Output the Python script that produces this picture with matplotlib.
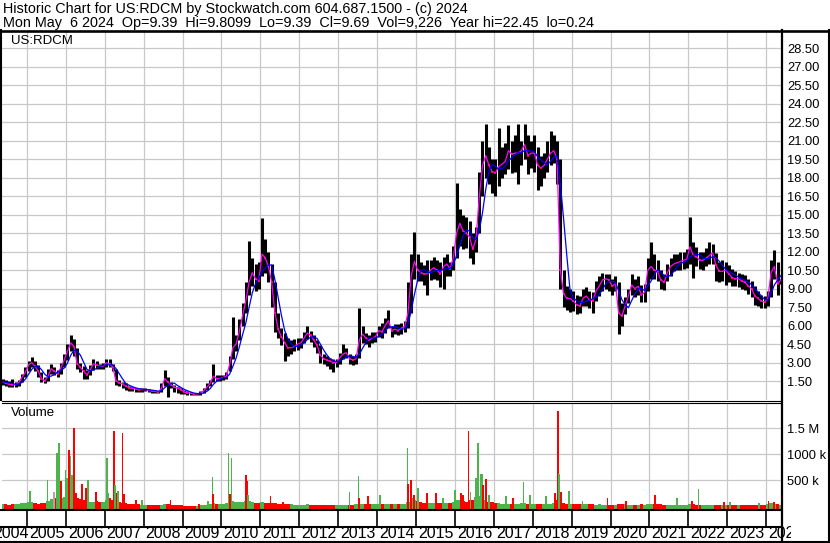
import numpy as np
import pandas as pd
import matplotlib.pyplot as plt
from matplotlib.lines import Line2D
from matplotlib.transforms import offset_copy, Bbox

plt.rcParams['font.family'] = ['Liberation Sans', 'DejaVu Sans']

W, H = 830, 543

# monthly bars, May 2004 .. May 2024
months = pd.period_range('2004-05', '2024-05', freq='M')

close = [
    1.45, 1.3, 1.25, 1.2, 1.2, 1.35, 1.8, 2.2,                          # 2004
    2.8, 3.0, 2.7, 2.3, 1.7, 1.5, 1.9, 2.5, 2.3, 2.1, 2.6, 3.2,         # 2005
    3.9, 4.6, 4.3, 2.9, 2.6, 2.3, 2.0, 2.4, 2.9, 2.8, 2.7, 2.7,         # 2006
    3.0, 2.9, 2.6, 1.5, 1.35, 1.25, 1.1, 0.95, 0.9, 0.85, 0.8, 0.8,     # 2007
    0.8, 0.75, 0.7, 0.65, 0.6, 0.9, 1.7, 1.4, 1.2, 1.0, 0.9, 0.8,       # 2008
    0.6, 0.55, 0.5, 0.45, 0.45, 0.5, 0.7, 1.0, 1.3, 1.9, 1.7, 1.7,      # 2009
    1.8, 1.9, 2.8, 4.2, 4.5, 5.5, 6.8, 8.0, 9.5, 10.3, 9.8, 9.6,        # 2010
    11.8, 11.5, 10.8, 9.5, 7.0, 5.7, 5.1, 4.6, 4.2, 4.2, 4.3, 4.5,      # 2011
    4.6, 5.0, 5.4, 5.2, 4.8, 4.4, 3.6, 3.3, 3.2, 3.1, 3.0, 3.0,         # 2012
    3.4, 3.7, 3.8, 3.3, 3.2, 3.3, 4.8, 5.3, 5.0, 4.8, 5.0, 5.1,         # 2013
    5.6, 5.5, 6.0, 6.4, 5.6, 5.7, 5.6, 5.8, 5.9, 7.0, 10.0, 11.2,       # 2014
    10.5, 10.3, 10.2, 10.2, 10.5, 10.7, 10.5, 10.2, 10.8, 11.0, 10.6, 11.5,  # 2015
    13.5, 14.3, 13.7, 13.5, 13.2, 12.2, 13.0, 16.4, 19.0, 19.8, 19.0, 18.5,  # 2016
    18.4, 18.9, 19.1, 19.3, 20.2, 19.9, 20.0, 20.0, 20.2, 20.7, 19.8, 20.0,  # 2017
    20.0, 19.0, 18.8, 19.0, 19.5, 20.0, 20.2, 19.5, 10.5, 8.6, 8.2, 8.2,     # 2018
    8.0, 7.7, 7.6, 8.2, 8.4, 8.1, 8.0, 8.8, 9.2, 9.7, 9.8, 9.7,         # 2019
    9.2, 9.4, 7.0, 6.8, 7.6, 8.4, 9.3, 9.0, 9.2, 8.5, 8.7, 10.5,        # 2020
    10.8, 10.5, 10.4, 9.7, 9.5, 10.3, 10.8, 11.0, 11.1, 11.2, 11.3, 11.4,    # 2021
    12.4, 11.7, 11.6, 11.3, 11.3, 11.5, 11.7, 11.9, 10.9, 10.4, 10.4, 10.5,  # 2022
    10.2, 9.9, 9.8, 9.8, 9.6, 9.5, 9.2, 9.0, 8.4, 8.2, 8.0, 7.9,        # 2023
    8.2, 10.3, 10.8, 9.4, 9.69,                                         # 2024
]
high = [
    1.7, 1.6, 1.5, 1.7, 1.45, 1.6, 2.1, 2.6,
    3.1, 3.45, 3.1, 2.8, 2.2, 1.8, 2.5, 2.9, 2.6, 2.4, 3.0, 3.7,
    4.5, 5.25, 4.9, 4.2, 3.0, 2.7, 2.4, 2.8, 3.3, 3.1, 2.9, 3.0,
    3.3, 3.25, 2.9, 2.5, 1.6, 1.45, 1.3, 1.1, 1.0, 0.95, 0.9, 0.9,
    0.9, 0.85, 0.8, 0.75, 0.7, 1.3, 2.4, 1.8, 1.4, 1.2, 1.0, 0.9,
    0.75, 0.7, 0.6, 0.55, 0.55, 0.65, 0.9, 1.3, 1.6, 2.9, 2.0, 2.0,
    2.0, 2.2, 3.5, 6.7, 5.2, 6.5, 7.8, 9.5, 12.9, 11.5, 11.0, 11.2,
    14.7, 13.0, 12.0, 11.0, 9.5, 7.0, 5.8, 5.4, 5.0, 4.8, 4.9, 5.0,
    5.0, 5.5, 6.0, 5.6, 5.2, 4.8, 4.4, 3.7, 3.5, 3.4, 3.3, 3.3,
    3.8, 4.5, 4.2, 3.7, 3.5, 3.7, 7.4, 6.0, 5.4, 5.2, 5.5, 5.5,
    6.0, 6.2, 6.6, 7.3, 6.0, 6.1, 6.1, 6.2, 6.4, 9.5, 11.8, 13.6,
    11.8, 11.2, 10.9, 11.3, 11.3, 11.6, 11.3, 11.2, 11.6, 11.8, 11.2, 12.5,
    17.6, 15.5, 15.0, 14.8, 14.5, 13.5, 14.0, 18.5, 21.0, 22.4, 20.5, 19.5,
    19.5, 22.0, 20.5, 20.8, 22.3, 21.0, 21.5, 22.4, 21.0, 22.4, 21.5, 21.0,
    21.5, 20.5, 19.8, 20.0, 21.0, 21.8, 21.5, 21.0, 19.5, 10.5, 9.2, 9.0,
    8.8, 8.5, 8.4, 9.0, 9.1, 8.8, 8.7, 9.6, 10.0, 10.3, 10.2, 10.2,
    9.8, 10.0, 9.5, 7.8, 8.3, 9.0, 10.2, 9.8, 10.0, 9.3, 9.4, 11.5,
    12.8, 11.8, 11.3, 10.5, 10.2, 11.0, 11.5, 11.8, 11.8, 12.0, 12.0, 12.2,
    14.8, 12.8, 12.4, 12.0, 12.0, 12.3, 12.8, 12.6, 11.9, 11.2, 11.3, 11.2,
    10.9, 10.6, 10.4, 10.3, 10.2, 10.1, 9.8, 9.6, 9.2, 8.8, 8.5, 8.4,
    8.8, 11.3, 12.1, 11.2, 9.81,
]
low = [
    1.15, 1.1, 1.0, 1.0, 1.0, 1.1, 1.4, 1.8,
    2.3, 2.6, 2.3, 1.8, 1.4, 1.3, 1.5, 2.1, 2.0, 1.8, 2.1, 2.6,
    3.2, 3.9, 3.5, 2.5, 2.2, 1.7, 1.7, 2.0, 2.4, 2.5, 2.5, 2.5,
    2.6, 2.6, 2.3, 1.2, 1.1, 0.9, 0.75, 0.7, 0.65, 0.6, 0.6, 0.6,
    0.65, 0.6, 0.55, 0.5, 0.5, 0.6, 1.1, 0.24, 0.9, 0.6, 0.5, 0.45,
    0.45, 0.4, 0.38, 0.35, 0.35, 0.4, 0.5, 0.8, 1.1, 1.4, 1.5, 1.5,
    1.6, 1.7, 2.3, 3.3, 3.9, 4.8, 6.0, 7.0, 8.5, 9.2, 8.8, 9.0,
    10.0, 10.3, 9.5, 7.5, 5.5, 5.0, 4.4, 3.1, 3.5, 3.7, 3.9, 4.0,
    4.2, 4.6, 4.9, 4.7, 4.3, 3.8, 3.0, 2.9, 2.7, 2.5, 2.2, 2.6,
    2.9, 3.3, 3.4, 2.9, 2.8, 2.9, 3.4, 4.6, 4.5, 4.3, 4.6, 4.7,
    5.1, 5.0, 5.4, 5.8, 5.1, 5.3, 5.2, 5.3, 5.5, 5.8, 7.0, 9.8,
    9.6, 9.6, 9.3, 8.5, 9.7, 9.8, 9.7, 9.1, 9.0, 10.0, 10.0, 10.5,
    11.5, 12.5, 12.2, 12.3, 11.5, 11.0, 12.0, 13.5, 16.5, 18.0, 17.5, 16.8,
    16.5, 17.3, 18.0, 18.3, 18.7, 18.4, 18.5, 17.5, 19.0, 19.5, 18.3, 18.8,
    18.5, 17.0, 17.3, 18.0, 18.5, 19.0, 19.2, 17.5, 9.0, 7.5, 7.3, 7.1,
    7.2, 6.9, 7.0, 7.6, 7.6, 7.4, 7.0, 8.0, 8.4, 8.8, 9.0, 8.8,
    8.5, 8.8, 5.3, 6.0, 6.9, 7.8, 8.5, 8.3, 8.5, 7.9, 7.9, 8.8,
    9.8, 9.8, 9.6, 9.0, 8.9, 9.6, 10.0, 10.4, 10.5, 10.5, 10.6, 10.7,
    11.0, 9.9, 10.8, 10.6, 10.5, 10.8, 11.0, 11.0, 9.6, 9.5, 9.6, 9.3,
    9.5, 9.2, 9.2, 9.1, 9.0, 8.9, 8.6, 8.3, 7.7, 7.6, 7.4, 7.4,
    7.6, 8.3, 9.8, 8.5, 9.39,
]
# typical daily volume level per month, thousands
base_vol = [
    40, 35, 30, 35, 40, 45, 60, 70,
    90, 80, 60, 50, 60, 70, 100, 140, 150, 130, 160, 180,
    200, 220, 180, 150, 140, 120, 110, 90, 80, 100, 90, 80,
    120, 150, 130, 110, 90, 70, 60, 50, 40, 40, 35, 30,
    30, 25, 20, 20, 20, 20, 40, 35, 25, 20, 15, 15,
    12, 10, 10, 10, 12, 15, 20, 25, 40, 60, 50, 40,
    50, 60, 80, 100, 90, 80, 90, 110, 100, 80, 70, 70,
    80, 70, 60, 70, 60, 50, 40, 50, 40, 35, 30, 30,
    30, 30, 35, 30, 25, 25, 25, 20, 20, 20, 18, 18,
    20, 22, 25, 25, 30, 40, 50, 40, 35, 35, 40, 35,
    35, 35, 40, 40, 35, 35, 40, 45, 50, 80, 150, 120,
    100, 80, 70, 70, 60, 70, 60, 60, 60, 70, 60, 80,
    120, 130, 100, 90, 130, 120, 180, 200, 150, 120, 90, 80,
    60, 60, 50, 50, 50, 50, 50, 45, 55, 60, 50, 50,
    50, 50, 45, 45, 50, 50, 60, 120, 90, 60, 50, 45,
    45, 40, 40, 40, 35, 35, 35, 30, 35, 30, 30, 30,
    30, 30, 45, 40, 35, 30, 30, 30, 30, 35, 30, 35,
    40, 40, 35, 35, 30, 30, 30, 30, 30, 30, 30, 30,
    35, 35, 30, 30, 30, 30, 28, 28, 28, 25, 25, 25,
    25, 25, 25, 22, 22, 22, 20, 20, 22, 22, 20, 25,
    50, 60, 50, 40, 30,
]
# single-day volume spikes: date (decimal year), volume (k), colour
spike_x = [2005.08, 2005.53, 2005.69, 2005.78, 2005.82, 2005.87, 2005.99, 2006.03,
           2006.08, 2006.12, 2006.16, 2006.22, 2006.26, 2006.41, 2006.51, 2006.57,
           2006.77, 2007.05, 2007.09, 2007.23, 2007.26, 2007.30, 2007.35, 2007.46,
           2007.50, 2007.80, 2007.96, 2008.69, 2009.42, 2009.65, 2009.77, 2009.78,
           2010.18, 2010.22, 2010.26, 2010.64, 2010.67, 2010.68, 2011.26, 2011.58,
           2013.29, 2013.52, 2013.53, 2013.77, 2014.08, 2014.78, 2014.80, 2014.88,
           2014.95, 2015.05, 2015.28, 2015.52, 2015.69, 2016.00, 2016.16, 2016.20,
           2016.35, 2016.40, 2016.55, 2016.60, 2016.66, 2016.70, 2016.73, 2016.80,
           2016.87, 2017.32, 2017.49, 2017.76, 2017.93, 2018.34, 2018.57, 2018.64,
           2018.68, 2018.73, 2018.94, 2019.28, 2019.92, 2020.40, 2021.14, 2021.70,
           2022.10, 2022.26, 2022.92, 2023.07, 2023.82, 2024.06, 2024.20]
spike_vol = [300, 500, 270, 1030, 1210, 490, 700, 540,
             1090, 970, 600, 1500, 250, 430, 350, 510,
             270, 920, 250, 1440, 410, 250, 300, 1400,
             240, 130, 130, 130, 45, 110, 570, 240,
             1030, 245, 920, 600, 490, 220, 200, 80,
             270, 580, 150, 190, 210, 1120, 430, 500,
             220, 350, 250, 250, 150, 320, 250, 220,
             1450, 280, 540, 1210, 630, 630, 410, 520,
             220, 190, 150, 460, 220, 190, 250, 1830,
             630, 270, 290, 110, 150, 110, 220, 150,
             110, 340, 90, 80, 60, 110, 80]
spike_col = ['g', 'g', 'n', 'g', 'g', 'r', 'g', 'g',
             'r', 'g', 'g', 'r', 'r', 'r', 'r', 'g',
             'r', 'g', 'g', 'r', 'g', 'r', 'g', 'r',
             'r', 'r', 'g', 'r', 'r', 'g', 'g', 'r',
             'g', 'r', 'g', 'r', 'r', 'g', 'r', 'r',
             'g', 'g', 'r', 'r', 'g', 'g', 'r', 'r',
             'r', 'g', 'r', 'r', 'g', 'g', 'r', 'r',
             'r', 'g', 'g', 'g', 'g', 'g', 'r', 'r',
             'g', 'g', 'r', 'g', 'g', 'g', 'r', 'r',
             'g', 'r', 'g', 'g', 'r', 'r', 'r', 'g',
             'r', 'g', 'r', 'g', 'g', 'r', 'r']

price_ticks = [1.5, 3.0, 4.5, 6.0, 7.5, 9.0, 10.5, 12.0, 13.5, 15.0,
               16.5, 18.0, 19.5, 21.0, 22.5, 24.0, 25.5, 27.0, 28.5]
vol_ticks = [500, 1000, 1500]
vol_labels = ['500 k', '1000 k', '1.5 M']
years = list(range(2004, 2025))

GREEN = '#4db34d'
RED = '#ff0000'
colmap = {'g': GREEN, 'r': RED, 'n': '#a8a8a8'}

x = np.asarray(months.year + (months.month - 0.5) / 12, dtype=float)
c = pd.Series(close)
ma_long = c.rolling(4, min_periods=1).mean()
up = np.r_[True, np.diff(close) >= 0]

fig = plt.figure(figsize=(W / 100, H / 100), dpi=100)


def box(l, t, r, b):
    return [l / W, 1 - b / H, (r - l) / W, (b - t) / H]


ax = fig.add_axes(box(2, 29.9, 781, 399.5))
axv = fig.add_axes(box(2, 402.7, 781, 509.5))
axd = fig.add_axes(box(2, 509.5, 781, 541.5))

xlim = (2004.36, 2024.38)
for a in (ax, axv, axd):
    a.set_xlim(*xlim)
    for s in a.spines.values():
        s.set_visible(False)

# price panel
ax.set_ylim(0, 30)
ax.set_xticks(years[1:])
ax.set_xticklabels([])
ax.set_yticks(price_ticks)
ax.set_yticklabels([f'{v:.2f}' for v in price_ticks])
ax.yaxis.tick_right()
ax.tick_params(length=0)
ax.tick_params(axis='y', pad=4.3, labelsize=9.3)
ax.grid(color='#c8c8c8', lw=0.9)
ax.set_axisbelow(True)

ax.vlines(x, low, high, color='black', lw=2.2, zorder=2)
ax.plot(x[~up], np.asarray(close)[~up], ls='none', marker='s', ms=1.6,
        mew=0, color=RED, zorder=3)
ax.plot(x, c, color='#ff00ff', lw=0.9, zorder=4)
ax.plot(x, ma_long, color='#0000ff', lw=0.9, zorder=5)
ax.text(9 / 779, 1 - 11 / 369.6, 'US:RDCM', transform=ax.transAxes,
        fontsize=9.5, va='center', ha='left')

# volume panel
axv.set_ylim(-62, 1992)
axv.set_xticks(years[1:])
axv.set_xticklabels([])
axv.set_yticks(vol_ticks)
axv.set_yticklabels(vol_labels)
axv.yaxis.tick_right()
axv.tick_params(length=0)
axv.tick_params(axis='y', pad=4.3, labelsize=9.3)
axv.grid(color='#c8c8c8', lw=0.9)
axv.set_axisbelow(True)

bcol = [GREEN if u else RED for u in up]
axv.bar(x, np.asarray(base_vol) + 62, bottom=-62, width=1 / 12, color=bcol,
        lw=0, zorder=2)
axv.bar(spike_x, np.asarray(spike_vol) + 62, bottom=-62, width=0.045,
        color=[colmap[k] for k in spike_col], lw=0, zorder=3)
axv.text(9 / 779, 1 - 10 / 106.8, 'Volume', transform=axv.transAxes,
         fontsize=9.5, va='center', ha='left')

# date strip
axd.set_ylim(32, 0)
axd.set_xticks([])
axd.set_yticks([])
axd.vlines(years[1:], 0, 17, color='black', lw=1.2)
lab_tr = offset_copy(axd.transData, fig=fig, x=2, y=0, units='dots')
first_tr = offset_copy(axd.transData, fig=fig, x=2, y=0, units='dots')
clip = Bbox.from_extents(0, 0, 791, H)
for yr in years:
    if yr == years[0]:
        # first label sits right-aligned against the next year's divider
        t = axd.text(yr + 1, 24.5, str(yr), transform=first_tr,
                     fontsize=11.5, va='center', ha='right')
    else:
        t = axd.text(yr, 24.5, str(yr), transform=lab_tr, fontsize=11.5,
                     va='center', ha='left')
    t.set_clip_box(clip)
    t.set_clip_on(True)


def hline(py, x0, x1, lw):
    fig.add_artist(Line2D([x0 / W, x1 / W], [1 - py / H, 1 - py / H],
                          color='black', lw=lw, transform=fig.transFigure))


def vline(px, y0, y1, lw):
    fig.add_artist(Line2D([px / W, px / W], [1 - y0 / H, 1 - y1 / H],
                          color='black', lw=lw, transform=fig.transFigure))


hline(30.5, 0, 830, 1.9)
hline(400.7, 2, 781, 0.8)
hline(402.7, 2, 781, 0.8)
hline(509.5, 0, 781, 1.5)
hline(526.5, 0, 781, 1.5)
hline(541.8, 0, 830, 1.5)
vline(1, 30, 400, 1.5)
vline(781.7, 30, 542, 1.6)
vline(828.8, 30, 542, 1.5)

fig.text(3 / W, 1 - 8.5 / H,
         'Historic Chart for US:RDCM by Stockwatch.com 604.687.1500 - (c) 2024',
         fontsize=10.4, va='center', ha='left')
fig.text(3 / W, 1 - 22.5 / H,
         'Mon May  6 2024  Op=9.39  Hi=9.8099  Lo=9.39  Cl=9.69  Vol=9,226  '
         'Year hi=22.45  lo=0.24',
         fontsize=10.4, va='center', ha='left')

fig.savefig('out.png', dpi=100)
